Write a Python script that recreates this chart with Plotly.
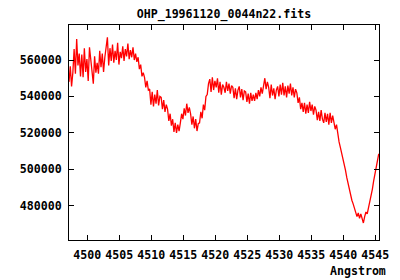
import plotly.graph_objects as go

# Wavelength grid of the spectrum (FITS-style start + step), in Angstrom
LAMBDA_START = 4497.14
LAMBDA_STEP = 0.2

FLUX = [
    548000, 556500, 545500, 553000,
    566000, 552500, 571500, 557000, 563500, 551000,
    563000, 550500, 566500, 553500, 560500, 548500, 567000,
    559000, 551500, 547000, 562000, 553000, 558500,
    552500, 565000, 556000, 563500, 553500, 561500, 566000,
    572500, 557000, 566500, 559500,
    568500, 558500, 565000, 560000, 569500, 557500, 564500, 561000,
    567500, 559500, 566000, 562000, 569000, 560500, 565500, 561500, 567000, 560000, 563500, 559000,
    561500, 555000, 557500, 551000, 553000,
    550500, 545000, 548500, 543500,
    544000, 535500, 542500, 534500, 541000, 536000, 543500, 535000, 540000,
    539500, 533000, 538000, 531500, 535500,
    533000, 526500, 530500, 524000,
    527500, 520500, 525500, 520000, 524500, 521000,
    525500, 530500, 527500, 533500, 529500, 536000, 531000, 534000,
    530500, 524500, 529000, 522500, 527500, 521000, 525000,
    525500, 531500, 528000, 535500, 532500, 540000, 541000, 547000,
    549500, 542500, 550500, 543500, 548500, 545000, 550000, 542000, 548000, 541000, 546500, 545000,
    542000, 548000, 543000, 547000, 541500, 546000,
    545000, 539000, 544500, 538500, 543500, 545500, 539500, 544000, 538000, 543000,
    542500, 537000, 541500, 536000, 542000, 537500, 541000, 537500,
    542000, 538500, 543500, 540000, 545000, 541500, 546500, 550000, 544000, 548000,
    545000, 539000, 546500, 540500, 544500, 538500, 543500, 545500, 540000,
    546500, 541000, 547500, 540500, 545500, 539500, 546000, 541500, 547000, 540500, 545000, 539500, 544000,
    542000, 536500, 539500, 533000, 536500,
    531500, 536500, 530500, 535500, 531000, 537000, 532000, 535500, 530000, 534500,
    532500, 527000, 531500, 526500, 532500, 527500, 525500, 531000, 526000, 530500, 524500, 531000, 525500, 529500,
    526000, 522000, 524500, 519000,
    515000, 512000, 509000, 507000, 503000, 499500, 495500, 492000, 488500, 486000,
    483000, 481000, 478500, 476500, 474000, 476000, 473000, 475500, 472500, 470500,
    474000, 476500, 475500, 479000, 481500, 484000, 489000, 493500, 497000, 502000,
    503500, 508500,
]

WAVELENGTH = [LAMBDA_START + i * LAMBDA_STEP for i in range(len(FLUX))]

X_TICKS = [4500, 4505, 4510, 4515, 4520, 4525, 4530, 4535, 4540, 4545]
Y_TICKS = [480000, 500000, 520000, 540000, 560000]

TITLE = "OHP_19961120_0044n22.fits"
X_LABEL = "Angstrom"

FONT = dict(family="DejaVu Sans Mono", size=11.6, color="black", weight="bold")

fig = go.Figure()
fig.add_trace(go.Scatter(x=WAVELENGTH, y=FLUX, mode="lines",
                         line=dict(color="#ff0000", width=1.3), showlegend=False,
                         hoverinfo="skip"))

axis_common = dict(showline=True, linecolor="black", linewidth=1, mirror="allticks",
                   ticks="inside", ticklen=5, tickcolor="black", tickwidth=1,
                   showgrid=False, zeroline=False, tickfont=FONT)

fig.update_layout(
    width=400, height=280,
    margin=dict(l=69, r=21, t=25, b=40),
    paper_bgcolor="white", plot_bgcolor="white",
    title=dict(text=TITLE, font=FONT, x=0.5, xref="paper", xanchor="center",
               y=1 - 14 / 280, yref="container", yanchor="middle"),
    xaxis=dict(range=[4497.14, 4545.58], tickvals=X_TICKS,
               ticktext=[str(v) for v in X_TICKS], ticklabelstandoff=4, **axis_common),
    yaxis=dict(range=[461150, 579230], tickvals=Y_TICKS,
               ticktext=[str(v) for v in Y_TICKS], ticklabelstandoff=4, **axis_common),
    annotations=[dict(text=X_LABEL, xref="paper", yref="paper", x=1.029, y=-0.144,
                      xanchor="right", yanchor="middle", showarrow=False, font=FONT)],
)

fig.write_html("out.html")
